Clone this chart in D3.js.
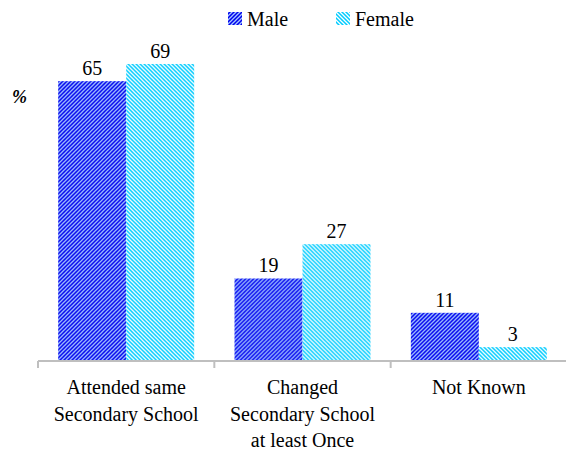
<!DOCTYPE html>
<html>
<head>
<meta charset="utf-8">
<script src="https://cdn.jsdelivr.net/npm/d3@7"></script>
<style>
  html, body { margin: 0; padding: 0; background: #fff; }
</style>
</head>
<body>
<svg id="chart" width="566" height="452"></svg>
<script>
const categories = [
  ["Attended same", "Secondary School"],
  ["Changed", "Secondary School", "at least Once"],
  ["Not Known"]
];
const categoryKeys = ["Attended same Secondary School", "Changed Secondary School at least Once", "Not Known"];
const seriesNames = ["Male", "Female"];
const maleValues = [65, 19, 11];
const femaleValues = [69, 27, 3];

const FONT = "Liberation Serif";
const svg = d3.select("#chart");
const defs = svg.append("defs");

function makePattern(id, base, stripe, dir) {
  const p = defs.append("pattern")
    .attr("id", id)
    .attr("patternUnits", "userSpaceOnUse")
    .attr("width", 4).attr("height", 4);
  p.append("rect").attr("width", 4).attr("height", 4).attr("fill", base);
  const d = dir === "up"
    ? "M-1,1 l2,-2 M0,4 l4,-4 M3,5 l2,-2"
    : "M-1,3 l2,2 M0,0 l4,4 M3,-1 l2,2";
  p.append("path").attr("d", d).attr("stroke", stripe).attr("stroke-width", 1.3);
}
makePattern("patMale", "#0000ee", "#a6c8ff", "up");
makePattern("patFemale", "#00ccff", "#ffffff", "down");
const fills = ["url(#patMale)", "url(#patFemale)"];

const baseY = 360;
const x0 = d3.scaleBand().domain(categoryKeys).range([38, 567]).paddingInner(0).paddingOuter(0);
const x1 = d3.scaleBand().domain(seriesNames).range([0, 136]);
const y = d3.scaleLinear().domain([0, 70]).range([baseY, baseY - 70 * 4.29]);

const data = categoryKeys.map((c, i) => ({ cat: c, vals: [maleValues[i], femaleValues[i]] }));

const groups = svg.append("g").selectAll("g").data(data).join("g")
  .attr("transform", d => `translate(${x0(d.cat) + (x0.bandwidth() - 136) / 2},0)`);

groups.selectAll("rect").data(d => d.vals.map((v, j) => ({ v, s: seriesNames[j], j })))
  .join("rect")
  .attr("x", d => x1(d.s))
  .attr("y", d => y(d.v))
  .attr("width", x1.bandwidth())
  .attr("height", d => baseY - y(d.v))
  .attr("fill", d => fills[d.j]);

groups.selectAll("text.val").data(d => d.vals.map((v, j) => ({ v, s: seriesNames[j] })))
  .join("text")
  .attr("class", "val")
  .attr("x", d => x1(d.s) + x1.bandwidth() / 2)
  .attr("y", d => y(d.v) - 6)
  .attr("text-anchor", "middle")
  .attr("font-family", FONT)
  .attr("font-size", 20)
  .text(d => d.v);

// x axis
const axisG = svg.append("g").attr("transform", `translate(0,361)`);
axisG.append("line")
  .attr("x1", 38).attr("x2", 567).attr("y1", 0).attr("y2", 0)
  .attr("stroke", "#bfbfbf").attr("stroke-width", 2);
const tickPos = categoryKeys.map(c => x0(c)).concat([x0.range()[1]]);
axisG.selectAll("line.tick").data(tickPos).join("line")
  .attr("class", "tick")
  .attr("x1", d => d).attr("x2", d => d)
  .attr("y1", 0).attr("y2", 7)
  .attr("stroke", "#bfbfbf").attr("stroke-width", 2);

svg.append("g").selectAll("text").data(categories.map((lines, i) => ({ lines, key: categoryKeys[i] })))
  .join("text")
  .attr("text-anchor", "middle")
  .attr("font-family", FONT)
  .attr("font-size", 20)
  .attr("x", d => x0(d.key) + x0.bandwidth() / 2)
  .attr("y", 394)
  .each(function(d) {
    const t = d3.select(this);
    d.lines.forEach((ln, k) => {
      t.append("tspan")
        .attr("x", x0(d.key) + x0.bandwidth() / 2)
        .attr("dy", k === 0 ? 0 : 26.5)
        .text(ln);
    });
  });

// % label
svg.append("text")
  .attr("x", 12).attr("y", 103)
  .attr("font-family", FONT)
  .attr("font-size", 18)
  .attr("font-weight", "bold")
  .attr("font-style", "italic")
  .text("%");

// legend
const legendItems = [
  { name: "Male", x: 228, fill: fills[0] },
  { name: "Female", x: 336, fill: fills[1] }
];
const lg = svg.append("g").selectAll("g").data(legendItems).join("g");
lg.append("rect")
  .attr("x", d => d.x).attr("y", 12)
  .attr("width", 14).attr("height", 13)
  .attr("fill", d => d.fill);
lg.append("text")
  .attr("x", d => d.x + 19).attr("y", 26)
  .attr("font-family", FONT)
  .attr("font-size", 20)
  .text(d => d.name);
</script>
</body>
</html>
